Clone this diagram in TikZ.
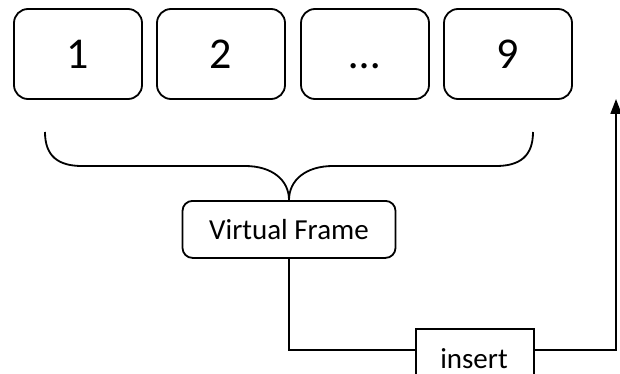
\documentclass[tikz,border=0pt]{standalone}
\usepackage{fontspec}
\setmainfont{Carlito}
\usetikzlibrary{arrows.meta}
\begin{document}
\begin{tikzpicture}[x=1pt,y=-1pt,line width=1.8pt,
  frame/.style={draw,rounded corners=14pt,minimum width=128pt,minimum height=90pt,
    inner sep=0pt,text height=29pt,text depth=0pt,font=\fontsize{44}{44}\selectfont},
  vbox/.style={draw,rounded corners=10pt,minimum width=213pt,minimum height=57pt,
    inner sep=0pt,font=\fontsize{29}{29}\selectfont},
  ibox/.style={draw,minimum width=118pt,minimum height=60pt,inner sep=0pt},
  label/.style={inner sep=0pt,text depth=0pt,font=\fontsize{29}{29}\selectfont},
  link/.style={line width=1.8pt},
  tip/.style={-{Triangle[length=15pt,width=11pt]}}]
\clip (0,0) rectangle (620,374);
\useasboundingbox (0,0) rectangle (620,374);

% row of frames
\node[frame] (f1) at (78,54)  {1};
\node[frame] (f2) at (221,54) {2};
\node[frame] (f3) at (365,54) {…};
\node[frame] (f4) at (508,54) {9};

% grouping brace
\coordinate (bl) at (45,132);
\coordinate (br) at (533,132);
\coordinate (bt) at (289,200);
\draw (bl) .. controls (45,156) and (58,166) .. (82,166) -- (245,166)
      .. controls (272,166) and (289,180) .. (bt)
      .. controls (289,180) and (306,166) .. (333,166) -- (496,166)
      .. controls (520,166) and (533,156) .. (br);

% virtual frame
\node[vbox,anchor=north] (vf) at (bt) {Virtual Frame};

% insert step; its lower edge runs past the page
\node[ibox,anchor=north west] (ins) at (415,328) {};
\node[label,anchor=base] (instext) at (474,368) {insert};

\coordinate (c1) at (vf.south |- 0,350);
\coordinate (c2) at (616,350);
\coordinate (top) at (616,99);
\draw[link] (vf.south) -- (c1) -- (ins.west |- c1);
\draw[link,tip] (ins.east |- c2) -- (c2) -- (top);
\end{tikzpicture}
\end{document}
